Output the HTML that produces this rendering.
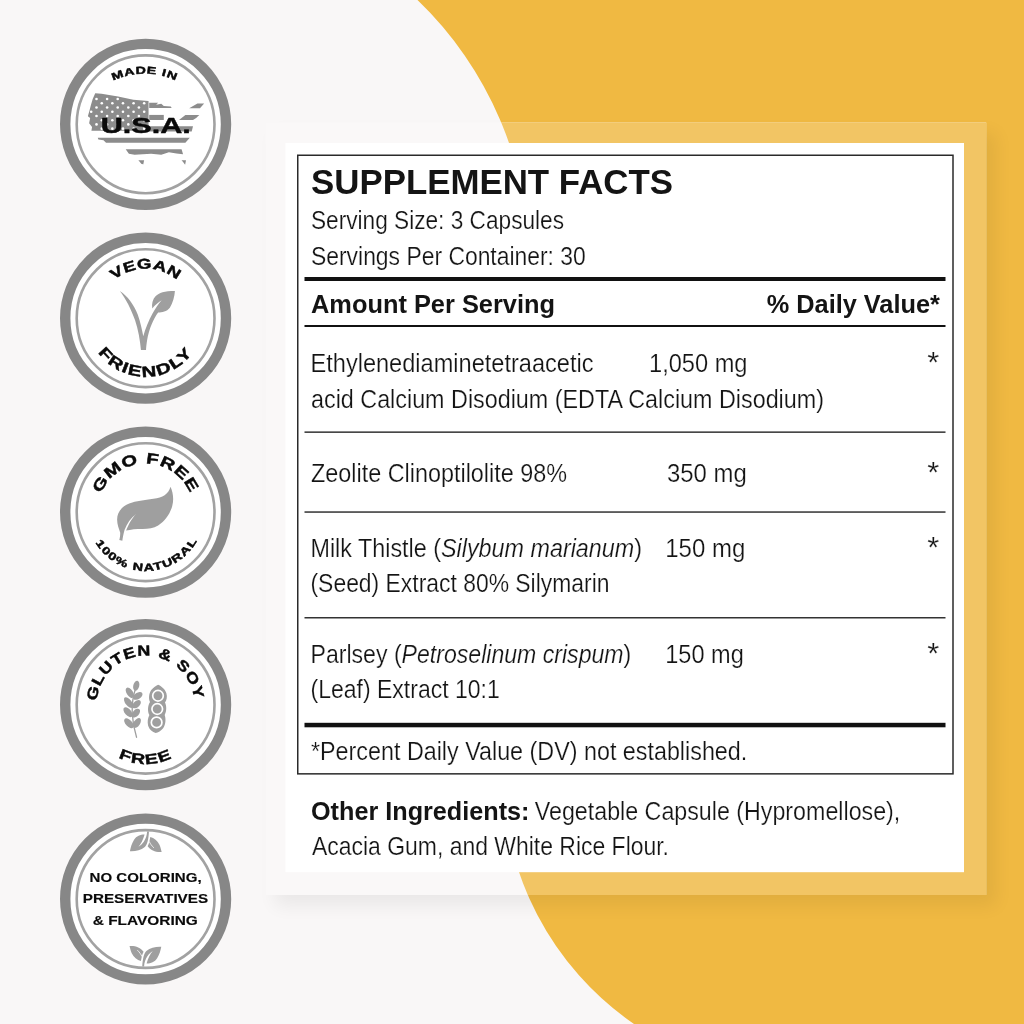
<!DOCTYPE html>
<html lang="en"><head><meta charset="utf-8"><title>Supplement Facts</title>
<style>
html,body{margin:0;padding:0;background:#f9f7f7;overflow:hidden}
svg{display:block}
text{font-family:"Liberation Sans",sans-serif;fill:#141414}
.r{stroke:#fff;stroke-width:0.22}
.b5{font-weight:bold;fill:#0a0a0a;stroke:#0a0a0a;stroke-width:0.15}
.b{font-weight:bold}
.i{font-style:italic}
.bt{font-weight:bold;fill:#0a0a0a;stroke:#0a0a0a;stroke-width:0.45;stroke-linejoin:round}
</style></head><body>
<svg width="1024" height="1024" viewBox="0 0 1024 1024">
<defs>
<filter id="sh" x="-10%" y="-10%" width="120%" height="120%"><feGaussianBlur stdDeviation="9"/></filter>
</defs>

<rect width="1024" height="1024" fill="#f9f7f7"/>
<path d="M417.5 0 A363 363 0 0 1 529 261 C529 430 503 600 503 773 A302 302 0 0 0 634 1024 L1024 1024 L1024 0 Z" fill="#f0b942"/>
<rect x="275" y="133" width="721" height="773" fill="#000" opacity="0.06" filter="url(#sh)"/>
<clipPath id="pc"><rect x="265.5" y="122.5" width="720.7" height="772.5"/></clipPath>
<g clip-path="url(#pc)"><rect width="1024" height="1024" fill="#f9f7f7"/><path d="M417.5 0 A363 363 0 0 1 529 261 C529 430 503 600 503 773 A302 302 0 0 0 634 1024 L1024 1024 L1024 0 Z" fill="#f0b942"/></g>
<rect x="265.5" y="122.5" width="720.7" height="772.5" fill="#fff" opacity="0.18"/>
<rect x="285.5" y="143" width="678.5" height="729.2" fill="#fff"/>
<rect x="297.75" y="155.25" width="655.25" height="618.6" fill="none" stroke="#2a2a2a" stroke-width="1.5"/>
<rect x="304.5" y="277.00" width="641" height="4.00" fill="#111"/>
<rect x="304.5" y="325.00" width="641" height="2.00" fill="#111"/>
<rect x="304.5" y="431.40" width="641" height="1.50" fill="#333"/>
<rect x="304.5" y="511.30" width="641" height="1.50" fill="#333"/>
<rect x="304.5" y="617.00" width="641" height="1.50" fill="#333"/>
<rect x="304.5" y="722.80" width="641" height="4.50" fill="#111"/>
<text x="311.00" y="193.50" font-size="34.20" class="b" textLength="362.00" lengthAdjust="spacingAndGlyphs">SUPPLEMENT FACTS</text>
<text x="311.00" y="229.00" font-size="25.80" class="r" textLength="253.00" lengthAdjust="spacingAndGlyphs">Serving Size: 3 Capsules</text>
<text x="311.00" y="264.50" font-size="25.80" class="r" textLength="274.80" lengthAdjust="spacingAndGlyphs">Servings Per Container: 30</text>
<text x="311.00" y="312.50" font-size="25.00" class="b" textLength="244.00" lengthAdjust="spacingAndGlyphs">Amount Per Serving</text>
<text x="766.70" y="312.50" font-size="25.00" class="b" textLength="173.20" lengthAdjust="spacingAndGlyphs">% Daily Value*</text>
<text x="310.50" y="372.00" font-size="25.80" class="r" textLength="283.00" lengthAdjust="spacingAndGlyphs">Ethylenediaminetetraacetic</text>
<text x="649.00" y="372.00" font-size="25.80" class="r" textLength="98.50" lengthAdjust="spacingAndGlyphs">1,050 mg</text>
<text x="311.00" y="407.50" font-size="25.80" class="r" textLength="513.00" lengthAdjust="spacingAndGlyphs">acid Calcium Disodium (EDTA Calcium Disodium)</text>
<text x="311.00" y="482.00" font-size="25.80" class="r" textLength="256.00" lengthAdjust="spacingAndGlyphs">Zeolite Clinoptilolite 98%</text>
<text x="667.00" y="482.00" font-size="25.80" class="r" textLength="79.75" lengthAdjust="spacingAndGlyphs">350 mg</text>
<text x="310.50" y="557.00" font-size="25.80" class="r" textLength="331.50" lengthAdjust="spacingAndGlyphs">Milk Thistle (<tspan class="i">Silybum marianum</tspan>)</text>
<text x="665.25" y="557.00" font-size="25.80" class="r" textLength="80.00" lengthAdjust="spacingAndGlyphs">150 mg</text>
<text x="310.50" y="592.00" font-size="25.80" class="r" textLength="299.00" lengthAdjust="spacingAndGlyphs">(Seed) Extract 80% Silymarin</text>
<text x="310.50" y="662.50" font-size="25.80" class="r" textLength="320.75" lengthAdjust="spacingAndGlyphs">Parlsey (<tspan class="i">Petroselinum crispum</tspan>)</text>
<text x="665.25" y="662.50" font-size="25.80" class="r" textLength="78.50" lengthAdjust="spacingAndGlyphs">150 mg</text>
<text x="310.50" y="697.50" font-size="25.80" class="r" textLength="189.25" lengthAdjust="spacingAndGlyphs">(Leaf) Extract 10:1</text>
<text x="311.00" y="760.00" font-size="25.80" class="r" textLength="436.25" lengthAdjust="spacingAndGlyphs">*Percent Daily Value (DV) not established.</text>
<text x="927.20" y="372.30" font-size="30.00" class="r" textLength="12.00" lengthAdjust="spacingAndGlyphs">*</text>
<text x="927.20" y="482.30" font-size="30.00" class="r" textLength="12.00" lengthAdjust="spacingAndGlyphs">*</text>
<text x="927.20" y="557.30" font-size="30.00" class="r" textLength="12.00" lengthAdjust="spacingAndGlyphs">*</text>
<text x="927.20" y="662.80" font-size="30.00" class="r" textLength="12.00" lengthAdjust="spacingAndGlyphs">*</text>
<text x="311.00" y="820.00" font-size="25.20" class="b" textLength="218.50" lengthAdjust="spacingAndGlyphs">Other Ingredients:</text>
<text x="534.80" y="820.00" font-size="25.80" class="r" textLength="365.50" lengthAdjust="spacingAndGlyphs">Vegetable Capsule (Hypromellose),</text>
<text x="312.00" y="855.00" font-size="25.80" class="r" textLength="357.00" lengthAdjust="spacingAndGlyphs">Acacia Gum, and White Rice Flour.</text>
<circle cx="145.6" cy="124.3" r="80.4" fill="#fff" stroke="#878787" stroke-width="10.4"/>
<circle cx="145.6" cy="124.3" r="68.9" fill="none" stroke="#a2a2a2" stroke-width="2.6"/>
<circle cx="145.6" cy="318.2" r="80.4" fill="#fff" stroke="#878787" stroke-width="10.4"/>
<circle cx="145.6" cy="318.2" r="68.9" fill="none" stroke="#a2a2a2" stroke-width="2.6"/>
<circle cx="145.6" cy="512.2" r="80.4" fill="#fff" stroke="#878787" stroke-width="10.4"/>
<circle cx="145.6" cy="512.2" r="68.9" fill="none" stroke="#a2a2a2" stroke-width="2.6"/>
<circle cx="145.6" cy="704.7" r="80.4" fill="#fff" stroke="#878787" stroke-width="10.4"/>
<circle cx="145.6" cy="704.7" r="68.9" fill="none" stroke="#a2a2a2" stroke-width="2.6"/>
<circle cx="145.6" cy="899.0" r="80.4" fill="#fff" stroke="#878787" stroke-width="10.4"/>
<circle cx="145.6" cy="899.0" r="68.9" fill="none" stroke="#a2a2a2" stroke-width="2.6"/>
<path id="p1" d="M144.59 220.30 A73.30 73.30 0 1 1 144.61 220.30" fill="none"/>
<text class="bt" font-size="10.20" text-anchor="middle" letter-spacing="0.50" stroke-width="0.30"><textPath href="#p1" startOffset="50%" textLength="65.00" lengthAdjust="spacingAndGlyphs">MADE IN</textPath></text>
<path id="p2" d="M145.59 367.70 A49.50 49.50 0 1 1 145.61 367.70" fill="none"/>
<text class="bt" font-size="14.00" text-anchor="middle" letter-spacing="0.30"><textPath href="#p2" startOffset="50%" textLength="68.50" lengthAdjust="spacingAndGlyphs">VEGAN</textPath></text>
<path id="p2b" d="M145.59 259.70 A58.50 58.50 0 1 0 145.61 259.70" fill="none"/>
<text class="bt" font-size="15.00" text-anchor="middle" letter-spacing="1.00"><textPath href="#p2b" startOffset="50%" textLength="110.50" lengthAdjust="spacingAndGlyphs">FRIENDLY</textPath></text>
<path id="p3" d="M145.59 560.70 A48.50 48.50 0 1 1 145.61 560.70" fill="none"/>
<text class="bt" font-size="15.20" text-anchor="middle" letter-spacing="0.60"><textPath href="#p3" startOffset="50%" textLength="114.00" lengthAdjust="spacingAndGlyphs">GMO FREE</textPath></text>
<path id="p3b" d="M145.59 453.40 A58.80 58.80 0 1 0 145.61 453.40" fill="none"/>
<text class="bt" font-size="10.50" text-anchor="middle" letter-spacing="0.80" stroke-width="0.30" transform="rotate(-1.50 145.60 512.20)"><textPath href="#p3b" startOffset="50%" textLength="123.00" lengthAdjust="spacingAndGlyphs">100% NATURAL</textPath></text>
<path id="p4" d="M145.59 753.70 A49.00 49.00 0 1 1 145.61 753.70" fill="none"/>
<text class="bt" font-size="14.60" text-anchor="middle" letter-spacing="0.80" transform="rotate(-0.75 145.60 704.70)"><textPath href="#p4" startOffset="50%" textLength="145.50" lengthAdjust="spacingAndGlyphs">GLUTEN &amp; SOY</textPath></text>
<path id="p4b" d="M145.59 645.40 A59.30 59.30 0 1 0 145.61 645.40" fill="none"/>
<text class="bt" font-size="14.20" text-anchor="middle" letter-spacing="0.80"><textPath href="#p4b" startOffset="50%" textLength="56.00" lengthAdjust="spacingAndGlyphs">FREE</textPath></text>
<text x="89.60" y="882.30" font-size="12.60" class="b5" textLength="112.00" lengthAdjust="spacingAndGlyphs">NO COLORING,</text>
<text x="82.80" y="903.30" font-size="12.60" class="b5" textLength="125.30" lengthAdjust="spacingAndGlyphs">PRESERVATIVES</text>
<text x="92.80" y="925.40" font-size="12.60" class="b5" textLength="105.00" lengthAdjust="spacingAndGlyphs">&amp; FLAVORING</text>
<path d="M 119.84 290.89 C 127.66 295.97 133.91 304.56 137.81 314.72 C 140.55 322.53 142.11 330.34 143.28 336.20 C 145.23 328.78 148.75 320.19 152.66 313.16 C 155.39 308.47 158.52 303.78 161.64 300.27 C 158.12 302.22 155.00 305.34 152.27 308.47 C 151.48 303.78 152.66 299.09 155.78 295.97 C 158.91 292.84 164.38 290.89 174.92 290.89 C 174.53 296.75 172.97 302.22 169.84 307.69 C 166.72 311.59 162.03 312.38 158.12 312.38 C 153.44 318.62 148.75 329.56 147.19 339.72 C 146.41 344.41 146.17 347.53 146.02 349.88 L 140.94 349.88 C 140.16 340.50 138.20 329.56 135.08 320.19 C 131.17 309.25 125.70 298.31 119.84 290.89 Z" fill="#9f9f9f"/>
<path d="M 170.47 486.72 C 168.28 494.53 162.81 497.27 153.44 498.83 C 144.06 500.39 136.25 500.78 129.22 503.52 C 121.41 506.64 117.11 512.50 117.11 519.53 C 117.11 525.00 119.06 528.91 120.23 532.81 C 120.23 535.94 119.84 538.28 119.30 540.00 L 122.34 540.78 C 122.81 537.50 123.36 534.38 124.53 530.08 C 126.88 523.44 130.78 517.97 136.25 513.67 C 132.34 517.58 128.44 524.22 126.09 530.62 C 130.78 529.30 136.25 528.91 142.50 528.91 C 148.75 528.91 153.44 528.12 158.12 525.39 C 165.16 521.09 169.84 514.06 172.19 506.25 C 174.14 499.22 172.97 492.19 170.47 486.72 Z" fill="#9f9f9f"/>
<g fill="#9f9f9f">
<path d="M 135.62 688.25 C 133.12 695.75 131.88 704.50 132.19 712.62 C 132.50 720.75 133.75 728.25 136.56 737.31" fill="none" stroke="#9f9f9f" stroke-width="1.3" stroke-linecap="round"/>
<ellipse cx="136.25" cy="685.75" rx="5.15" ry="2.97" transform="rotate(-76.0 136.25 685.75)"/>
<ellipse cx="129.84" cy="692.78" rx="5.85" ry="3.12" transform="rotate(-124.1 129.84 692.78)"/>
<ellipse cx="137.81" cy="695.91" rx="5.29" ry="3.12" transform="rotate(-34.2 137.81 695.91)"/>
<ellipse cx="128.59" cy="702.62" rx="6.34" ry="3.12" transform="rotate(-128.0 128.59 702.62)"/>
<ellipse cx="136.56" cy="704.19" rx="5.09" ry="3.12" transform="rotate(-42.5 136.56 704.19)"/>
<ellipse cx="127.97" cy="712.16" rx="5.98" ry="3.12" transform="rotate(-130.8 127.97 712.16)"/>
<ellipse cx="135.94" cy="713.09" rx="5.20" ry="3.12" transform="rotate(-48.7 135.94 713.09)"/>
<ellipse cx="128.91" cy="723.25" rx="6.08" ry="3.12" transform="rotate(-134.0 128.91 723.25)"/>
<ellipse cx="136.88" cy="722.94" rx="5.63" ry="3.12" transform="rotate(-56.3 136.88 722.94)"/>
<path d="M 158.12 684.69 C 161.25 686.06 165.00 688.88 166.38 693.25 C 167.50 697.00 166.56 700.12 165.00 702.62 C 166.56 705.75 166.88 710.75 164.69 715.12 C 165.94 718.88 165.94 724.50 163.12 728.25 C 160.94 731.06 158.12 732.31 155.62 733.12 C 152.50 732.00 149.38 729.81 148.12 725.75 C 147.19 722.00 147.81 718.25 149.38 715.12 C 147.50 712.00 147.50 705.75 150.00 702.00 C 148.44 698.88 148.75 693.88 151.25 690.12 C 153.12 687.62 155.62 685.75 158.12 684.69 Z"/>
<circle cx="158.00" cy="695.75" r="5.3" fill="#9f9f9f" stroke="#fff" stroke-width="1.7"/>
<circle cx="157.25" cy="709.00" r="5.3" fill="#9f9f9f" stroke="#fff" stroke-width="1.7"/>
<circle cx="156.62" cy="722.38" r="5.3" fill="#9f9f9f" stroke="#fff" stroke-width="1.7"/>
</g>
<g fill="#9f9f9f">
<path d="M 161.28 946.73 C 156.16 946.48 150.30 947.46 146.39 950.88 C 143.95 953.32 142.73 958.20 142.24 966.41 L 144.05 966.41 C 144.34 962.60 145.41 959.18 147.37 956.25 C 149.08 953.91 150.79 952.34 152.74 951.37 C 150.30 953.56 148.15 958.20 146.59 963.48 C 150.54 963.57 154.69 962.11 157.13 958.20 C 159.57 954.30 160.55 950.39 161.28 946.73 Z"/>
<path d="M 129.54 946.00 C 135.16 945.51 140.53 947.46 143.56 951.76 C 142.88 953.32 142.09 954.79 141.80 956.49 L 140.92 961.04 C 137.11 960.16 133.70 957.23 131.74 953.32 C 130.52 950.39 130.03 947.95 129.54 946.00 Z"/>
<path d="M 137.36 950.15 C 139.55 952.34 141.02 954.30 141.90 956.49" fill="none" stroke="#fff" stroke-width="0.8"/>
</g>
<g fill="#9f9f9f" transform="rotate(180 145.6 899)">
<path d="M 161.28 946.73 C 156.16 946.48 150.30 947.46 146.39 950.88 C 143.95 953.32 142.73 958.20 142.24 966.41 L 144.05 966.41 C 144.34 962.60 145.41 959.18 147.37 956.25 C 149.08 953.91 150.79 952.34 152.74 951.37 C 150.30 953.56 148.15 958.20 146.59 963.48 C 150.54 963.57 154.69 962.11 157.13 958.20 C 159.57 954.30 160.55 950.39 161.28 946.73 Z"/>
<path d="M 129.54 946.00 C 135.16 945.51 140.53 947.46 143.56 951.76 C 142.88 953.32 142.09 954.79 141.80 956.49 L 140.92 961.04 C 137.11 960.16 133.70 957.23 131.74 953.32 C 130.52 950.39 130.03 947.95 129.54 946.00 Z"/>
<path d="M 137.36 950.15 C 139.55 952.34 141.02 954.30 141.90 956.49" fill="none" stroke="#fff" stroke-width="0.8"/>
</g>
<g fill="#8c8c8c">
<path d="M 95.23 93.33 L 101.58 93.71 L 118.09 96.50 L 133.32 99.68 L 148.55 100.95 L 148.55 130.78 L 91.43 130.78 L 92.06 126.97 L 89.14 123.16 L 90.16 118.09 L 87.87 116.18 L 89.52 110.47 L 90.79 105.39 L 92.70 99.04 Z"/>
<path d="M 149.19 102.85 L 158.08 102.85 L 156.17 104.76 L 161.25 103.87 L 163.79 106.03 L 170.77 106.41 L 171.66 107.93 L 149.19 107.93 Z"/>
<path d="M 189.18 108.18 L 197.43 103.49 L 204.16 103.49 L 199.97 108.18 Z"/>
<path d="M 149.19 114.91 L 163.79 114.91 L 163.79 119.99 L 149.19 119.99 Z"/>
<path d="M 179.02 119.99 L 185.37 114.91 L 199.33 114.91 L 196.16 118.09 L 192.99 119.99 Z"/>
<path d="M 149.19 126.34 L 192.99 126.34 L 191.72 131.42 L 149.19 131.42 Z"/>
<path d="M 97.77 137.76 L 189.81 137.76 L 185.37 142.84 L 106.03 142.84 L 103.49 140.30 L 98.41 139.41 Z"/>
<path d="M 125.70 149.19 L 181.56 149.19 L 183.08 154.27 L 176.48 153.38 L 168.87 152.36 L 161.25 154.65 L 151.09 153.63 L 134.59 154.65 L 128.88 153.63 Z"/>
<path d="M 138.40 160.23 L 144.11 160.23 L 143.22 164.42 L 140.94 163.15 Z"/>
<path d="M 181.56 160.23 L 186.00 160.23 L 185.12 164.80 L 183.47 162.52 Z"/>
</g>
<g fill="#fff">
<circle cx="96.50" cy="99.04" r="1.3"/>
<circle cx="107.10" cy="99.04" r="1.3"/>
<circle cx="117.70" cy="99.04" r="1.3"/>
<circle cx="101.77" cy="103.27" r="1.3"/>
<circle cx="112.37" cy="103.27" r="1.3"/>
<circle cx="122.97" cy="103.27" r="1.3"/>
<circle cx="133.57" cy="103.27" r="1.3"/>
<circle cx="144.17" cy="103.27" r="1.3"/>
<circle cx="96.50" cy="107.50" r="1.3"/>
<circle cx="107.10" cy="107.50" r="1.3"/>
<circle cx="117.70" cy="107.50" r="1.3"/>
<circle cx="128.31" cy="107.50" r="1.3"/>
<circle cx="138.91" cy="107.50" r="1.3"/>
<circle cx="91.17" cy="111.73" r="1.3"/>
<circle cx="101.77" cy="111.73" r="1.3"/>
<circle cx="112.37" cy="111.73" r="1.3"/>
<circle cx="122.97" cy="111.73" r="1.3"/>
<circle cx="133.57" cy="111.73" r="1.3"/>
<circle cx="144.17" cy="111.73" r="1.3"/>
<circle cx="96.50" cy="115.95" r="1.3"/>
<circle cx="107.10" cy="115.95" r="1.3"/>
<circle cx="117.70" cy="115.95" r="1.3"/>
<circle cx="128.31" cy="115.95" r="1.3"/>
<circle cx="138.91" cy="115.95" r="1.3"/>
<circle cx="101.77" cy="120.18" r="1.3"/>
<circle cx="112.37" cy="120.18" r="1.3"/>
<circle cx="122.97" cy="120.18" r="1.3"/>
<circle cx="133.57" cy="120.18" r="1.3"/>
<circle cx="144.17" cy="120.18" r="1.3"/>
<circle cx="96.50" cy="124.41" r="1.3"/>
<circle cx="107.10" cy="124.41" r="1.3"/>
<circle cx="117.70" cy="124.41" r="1.3"/>
<circle cx="128.31" cy="124.41" r="1.3"/>
<circle cx="138.91" cy="124.41" r="1.3"/>
<circle cx="101.77" cy="128.64" r="1.3"/>
<circle cx="112.37" cy="128.64" r="1.3"/>
<circle cx="122.97" cy="128.64" r="1.3"/>
<circle cx="133.57" cy="128.64" r="1.3"/>
<circle cx="144.17" cy="128.64" r="1.3"/>
</g>
<text x="100.80" y="133.20" font-size="21.20" class="bt" textLength="90.00" lengthAdjust="spacingAndGlyphs">U.S.A.</text>
</svg>
</body></html>
